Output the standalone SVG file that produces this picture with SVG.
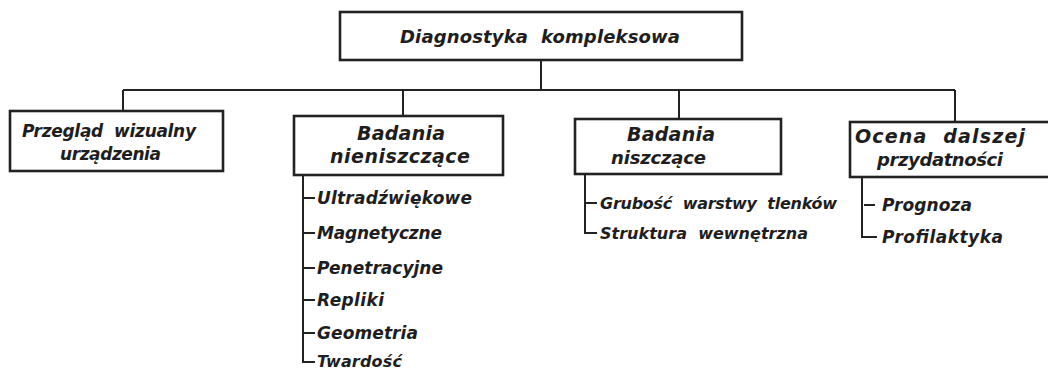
<svg xmlns="http://www.w3.org/2000/svg" width="1048" height="370" viewBox="0 0 1048 370">
<style>
.box{fill:#fff;stroke:#222;stroke-width:2.6}
.ln{fill:none;stroke:#222;stroke-width:2}
text{font-family:"DejaVu Sans","Liberation Sans",sans-serif;font-style:oblique;font-weight:bold;font-size:17px;fill:#1e1e1e;white-space:pre}
.s18{font-size:18px}
.s19{font-size:19px}
.s16{font-size:16px}
</style>
<rect width="1048" height="370" fill="#fff"/>
<g id="connectors">
<path class="ln" d="M541 60V90M123 90H955M123 90V111M403 90V116M679 90V119M955 90V122"/>
<path class="ln" d="M303 175V362H315M303 198H315M303 233H315M303 268H315M303 300H315M303 333H315"/>
<path class="ln" d="M585 174V233H597M585 203H597"/>
<path class="ln" d="M862 177V237H877M864 205H875"/>
</g>
<g id="n-root">
<rect class="box" x="340" y="12" width="402" height="48"/>
<text class="s18" x="400" y="43" textLength="280" lengthAdjust="spacing">Diagnostyka  kompleksowa</text>
</g>
<g id="n-przeglad">
<rect class="box" x="10" y="111" width="213" height="60"/>
<text x="22" y="137" textLength="174" lengthAdjust="spacing">Przegląd  wizualny</text>
<text x="60" y="160" textLength="101" lengthAdjust="spacing">urządzenia</text>
</g>
<g id="n-nieniszczace">
<rect class="box" x="294" y="116" width="209" height="59"/>
<text class="s19" x="357" y="140" textLength="88" lengthAdjust="spacing">Badania</text>
<text class="s19" x="330" y="163" textLength="140" lengthAdjust="spacing">nieniszczące</text>
</g>
<g id="n-niszczace">
<rect class="box" x="575" y="119" width="206" height="55"/>
<text class="s19" x="627" y="141" textLength="88" lengthAdjust="spacing">Badania</text>
<text class="s18" x="611" y="164" textLength="95" lengthAdjust="spacing">niszczące</text>
</g>
<g id="n-ocena">
<rect class="box" x="850" y="122" width="210" height="55"/>
<text class="s19" x="855" y="143" textLength="170" lengthAdjust="spacing">Ocena  dalszej</text>
<text class="s18" x="877" y="166" textLength="126" lengthAdjust="spacing">przydatności</text>
</g>
<g id="list-nieniszczace">
<text x="317" y="204" textLength="155" lengthAdjust="spacing">Ultradźwiękowe</text>
<text x="317" y="239" textLength="125" lengthAdjust="spacing">Magnetyczne</text>
<text x="317" y="274" textLength="126" lengthAdjust="spacing">Penetracyjne</text>
<text x="317" y="306" textLength="67" lengthAdjust="spacing">Repliki</text>
<text x="317" y="339" textLength="101" lengthAdjust="spacing">Geometria</text>
<text class="s16" x="317" y="367" textLength="85" lengthAdjust="spacing">Twardość</text>
</g>
<g id="list-niszczace">
<text class="s16" x="600" y="209" textLength="237" lengthAdjust="spacing">Grubość  warstwy  tlenków</text>
<text class="s16" x="600" y="239" textLength="208" lengthAdjust="spacing">Struktura  wewnętrzna</text>
</g>
<g id="list-ocena">
<text x="882" y="211" textLength="90" lengthAdjust="spacing">Prognoza</text>
<text x="882" y="243" textLength="121" lengthAdjust="spacing">Profilaktyka</text>
</g>
</svg>
